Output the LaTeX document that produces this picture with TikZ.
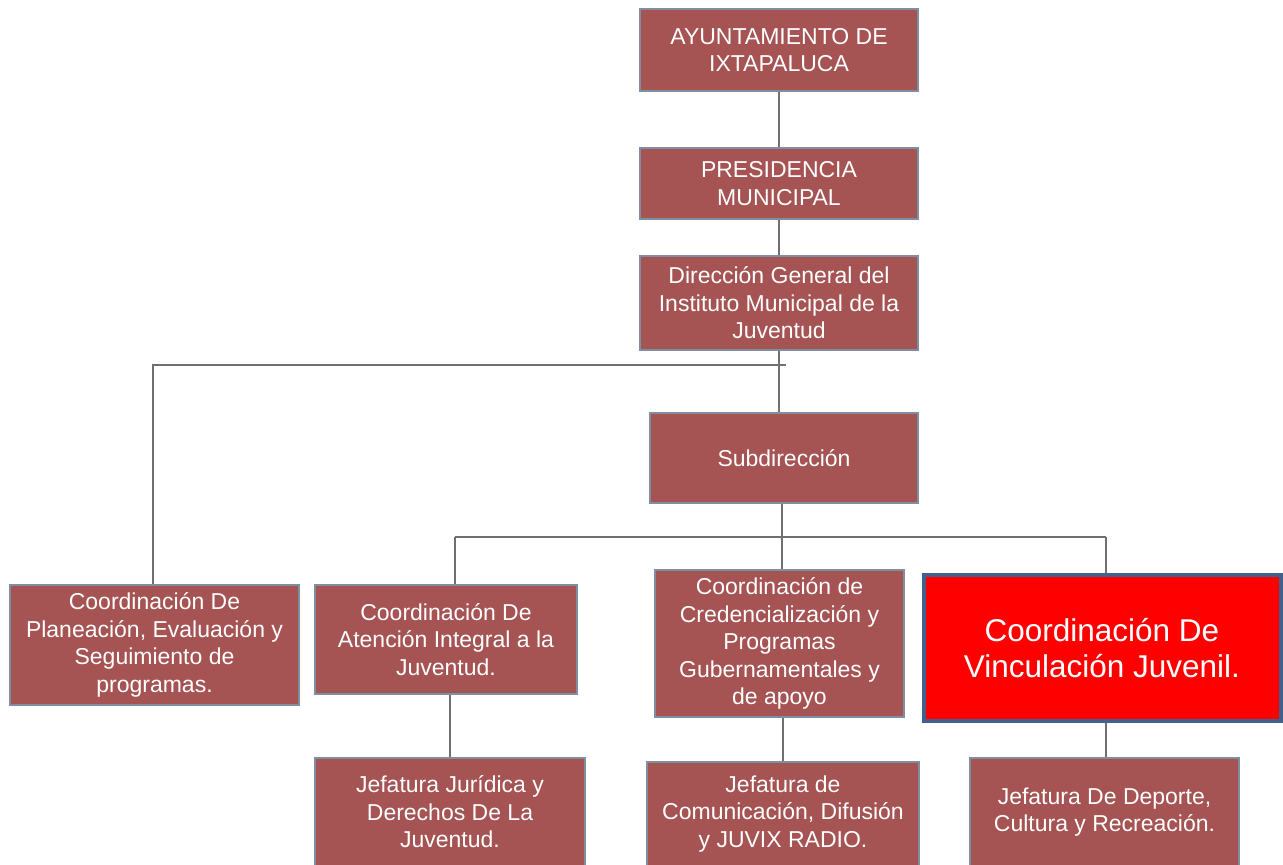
\documentclass[tikz,border=0pt]{standalone}
\usepackage{fontspec}
\setmainfont{Liberation Sans}
\definecolor{boxfill}{RGB}{166,83,83}
\definecolor{boxline}{RGB}{128,142,162}
\definecolor{redfill}{RGB}{255,0,0}
\definecolor{redline}{RGB}{66,96,140}
\definecolor{conn}{RGB}{112,112,112}
\begin{document}
\begin{tikzpicture}[x=1pt,y=-1pt,
  orgbox/.style={draw=boxline,line width=1.2pt,fill=boxfill,text=white,align=center,
    inner sep=0pt,font=\fontsize{23}{27.5}\selectfont},
  redbox/.style={draw=redline,line width=4pt,fill=redfill,text=white,align=center,
    inner sep=0pt,font=\fontsize{31.5}{36}\selectfont},
  link/.style={draw=conn,line width=1.3pt}]
\clip (0,0) rectangle (1283,865);
\fill[white] (0,0) rectangle (1283,865);
% nodes
\node[orgbox,minimum width=278pt,minimum height=82pt] (a) at (779,50) {AYUNTAMIENTO DE\\IXTAPALUCA};
\node[orgbox,minimum width=278pt,minimum height=71pt] (b) at (779,183.5) {PRESIDENCIA\\MUNICIPAL};
\node[orgbox,minimum width=278pt,minimum height=94pt] (c) at (779,303) {Dirección General del\\Instituto Municipal de la\\Juventud};
\node[orgbox,minimum width=268pt,minimum height=90pt] (d) at (784,458) {Subdirección};
\node[orgbox,minimum width=289pt,minimum height=120pt] (e) at (154.5,645) {Coordinación De\\Planeación, Evaluación y\\Seguimiento de\\programas.};
\node[orgbox,minimum width=262pt,minimum height=109pt] (f) at (446,639.5) {Coordinación De\\Atención Integral a la\\Juventud.};
\node[orgbox,minimum width=249pt,minimum height=147pt] (g) at (779.5,643.5) {Coordinación de\\Credencialización y\\Programas\\Gubernamentales y\\de apoyo};
\node[redbox,minimum width=357pt,minimum height=146pt] (h) at (1102,648) {Coordinación De\\Vinculación Juvenil.};
\node[orgbox,minimum width=270pt,minimum height=108pt] (i) at (450,812) {Jefatura Jurídica y\\Derechos De La\\Juventud.};
\node[orgbox,minimum width=272pt,minimum height=104pt] (j) at (783,814) {Jefatura de\\Comunicación, Difusión\\y JUVIX RADIO.};
\node[orgbox,minimum width=269pt,minimum height=108pt] (k) at (1104.5,812) {Jefatura De Deporte,\\Cultura y Recreación.};
% connectors
\coordinate (busL) at (153,365);
\coordinate (busR) at (786,365);
\coordinate (bus2L) at (455,537);
\coordinate (bus2R) at (1106,537);
\coordinate (bus2M) at (782,537);
\draw[link] (a.south) -- (b.north);
\draw[link] (b.south) -- (c.south |- b.south) -- (c.north);
\draw[link] (c.south) -- (c.south |- d.north);
\draw[link] (busR) -- (busL) -- (busL |- e.north);
\draw[link] (bus2M |- d.south) -- (bus2M);
\draw[link] (bus2L) -- (bus2R);
\draw[link] (bus2L) -- (bus2L |- f.north);
\draw[link] (bus2M) -- (bus2M |- g.north);
\draw[link] (bus2R) -- (bus2R |- h.north);
\draw[link] (i.north |- f.south) -- (i.north);
\draw[link] (j.north |- g.south) -- (j.north);
\draw[link] (bus2R |- h.south) -- (bus2R |- k.north);
\end{tikzpicture}
\end{document}
